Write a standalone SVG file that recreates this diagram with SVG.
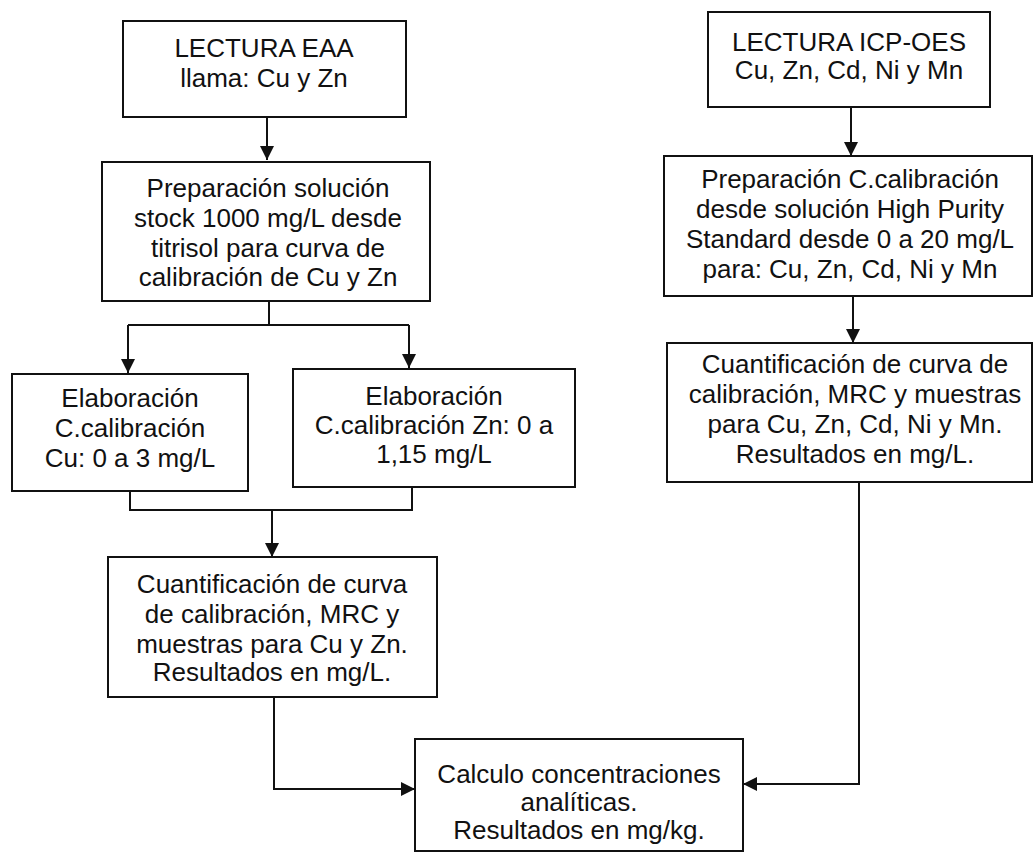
<svg xmlns="http://www.w3.org/2000/svg" width="1034" height="855" viewBox="0 0 1034 855">
<style>
.box{fill:#fff;stroke:#111;stroke-width:2}
.t{font-family:"Liberation Sans",Arial,sans-serif;font-size:26px;fill:#111;text-anchor:middle}
.c{fill:none;stroke:#111;stroke-width:2}
</style>
<defs>
<marker id="ah" markerUnits="userSpaceOnUse" markerWidth="14" markerHeight="14" refX="14" refY="7" orient="auto">
<path d="M0,0 L14,7 L0,14 z" fill="#111"/>
</marker>
</defs>
<rect width="1034" height="855" fill="#fff"/>
<g id="connectors">
<path class="c" d="M267,117 V160" marker-end="url(#ah)"/>
<path class="c" d="M269,301 V325 M128,325 H409"/>
<path class="c" d="M128,325 V373" marker-end="url(#ah)"/>
<path class="c" d="M409,325 V368" marker-end="url(#ah)"/>
<path class="c" d="M130,491 V510 H412 V487"/>
<path class="c" d="M272,510 V557" marker-end="url(#ah)"/>
<path class="c" d="M274,697 V789 H415" marker-end="url(#ah)"/>
<path class="c" d="M851,107 V156" marker-end="url(#ah)"/>
<path class="c" d="M853,296 V343" marker-end="url(#ah)"/>
<path class="c" d="M859,482 V784 H743" marker-end="url(#ah)"/>
</g>
<g id="n1">
<rect class="box" x="123" y="21" width="283" height="96"/>
<text class="t" x="264" y="57">LECTURA EAA</text>
<text class="t" x="264" y="87">llama: Cu y Zn</text>
</g>
<g id="n2">
<rect class="box" x="102" y="162" width="328" height="139"/>
<text class="t" x="268" y="197">Preparación solución</text>
<text class="t" x="268" y="227">stock 1000 mg/L desde</text>
<text class="t" x="268" y="257">titrisol para curva de</text>
<text class="t" x="268" y="286">calibración de Cu y Zn</text>
</g>
<g id="n3">
<rect class="box" x="12" y="374" width="236" height="117"/>
<text class="t" x="130" y="407">Elaboración</text>
<text class="t" x="130" y="437">C.calibración</text>
<text class="t" x="130" y="467">Cu: 0 a 3 mg/L</text>
</g>
<g id="n4">
<rect class="box" x="293" y="369" width="282" height="118"/>
<text class="t" x="434" y="405">Elaboración</text>
<text class="t" x="434" y="434">C.calibración Zn: 0 a</text>
<text class="t" x="434" y="463">1,15 mg/L</text>
</g>
<g id="n5">
<rect class="box" x="108" y="557" width="329" height="140"/>
<text class="t" x="272" y="593">Cuantificación de curva</text>
<text class="t" x="272" y="623">de calibración, MRC y</text>
<text class="t" x="272" y="653">muestras para Cu y Zn.</text>
<text class="t" x="272" y="681">Resultados en mg/L.</text>
</g>
<g id="n6">
<rect class="box" x="415" y="739" width="328" height="112"/>
<text class="t" x="579" y="783">Calculo concentraciones</text>
<text class="t" x="579" y="811">analíticas.</text>
<text class="t" x="579" y="839">Resultados en mg/kg.</text>
</g>
<g id="n7">
<rect class="box" x="708" y="12" width="282" height="95"/>
<text class="t" x="849" y="51">LECTURA ICP-OES</text>
<text class="t" x="849" y="79">Cu, Zn, Cd, Ni y Mn</text>
</g>
<g id="n8">
<rect class="box" x="664" y="156" width="368" height="140"/>
<text class="t" x="850" y="188">Preparación C.calibración</text>
<text class="t" x="850" y="218">desde solución High Purity</text>
<text class="t" x="850" y="248">Standard desde 0 a 20 mg/L</text>
<text class="t" x="850" y="278">para: Cu, Zn, Cd, Ni y Mn</text>
</g>
<g id="n9">
<rect class="box" x="667" y="343" width="365" height="139"/>
<text class="t" x="855" y="373">Cuantificación de curva de</text>
<text class="t" x="855" y="403">calibración, MRC y muestras</text>
<text class="t" x="855" y="433">para Cu, Zn, Cd, Ni y Mn.</text>
<text class="t" x="855" y="463">Resultados en mg/L.</text>
</g>
</svg>
